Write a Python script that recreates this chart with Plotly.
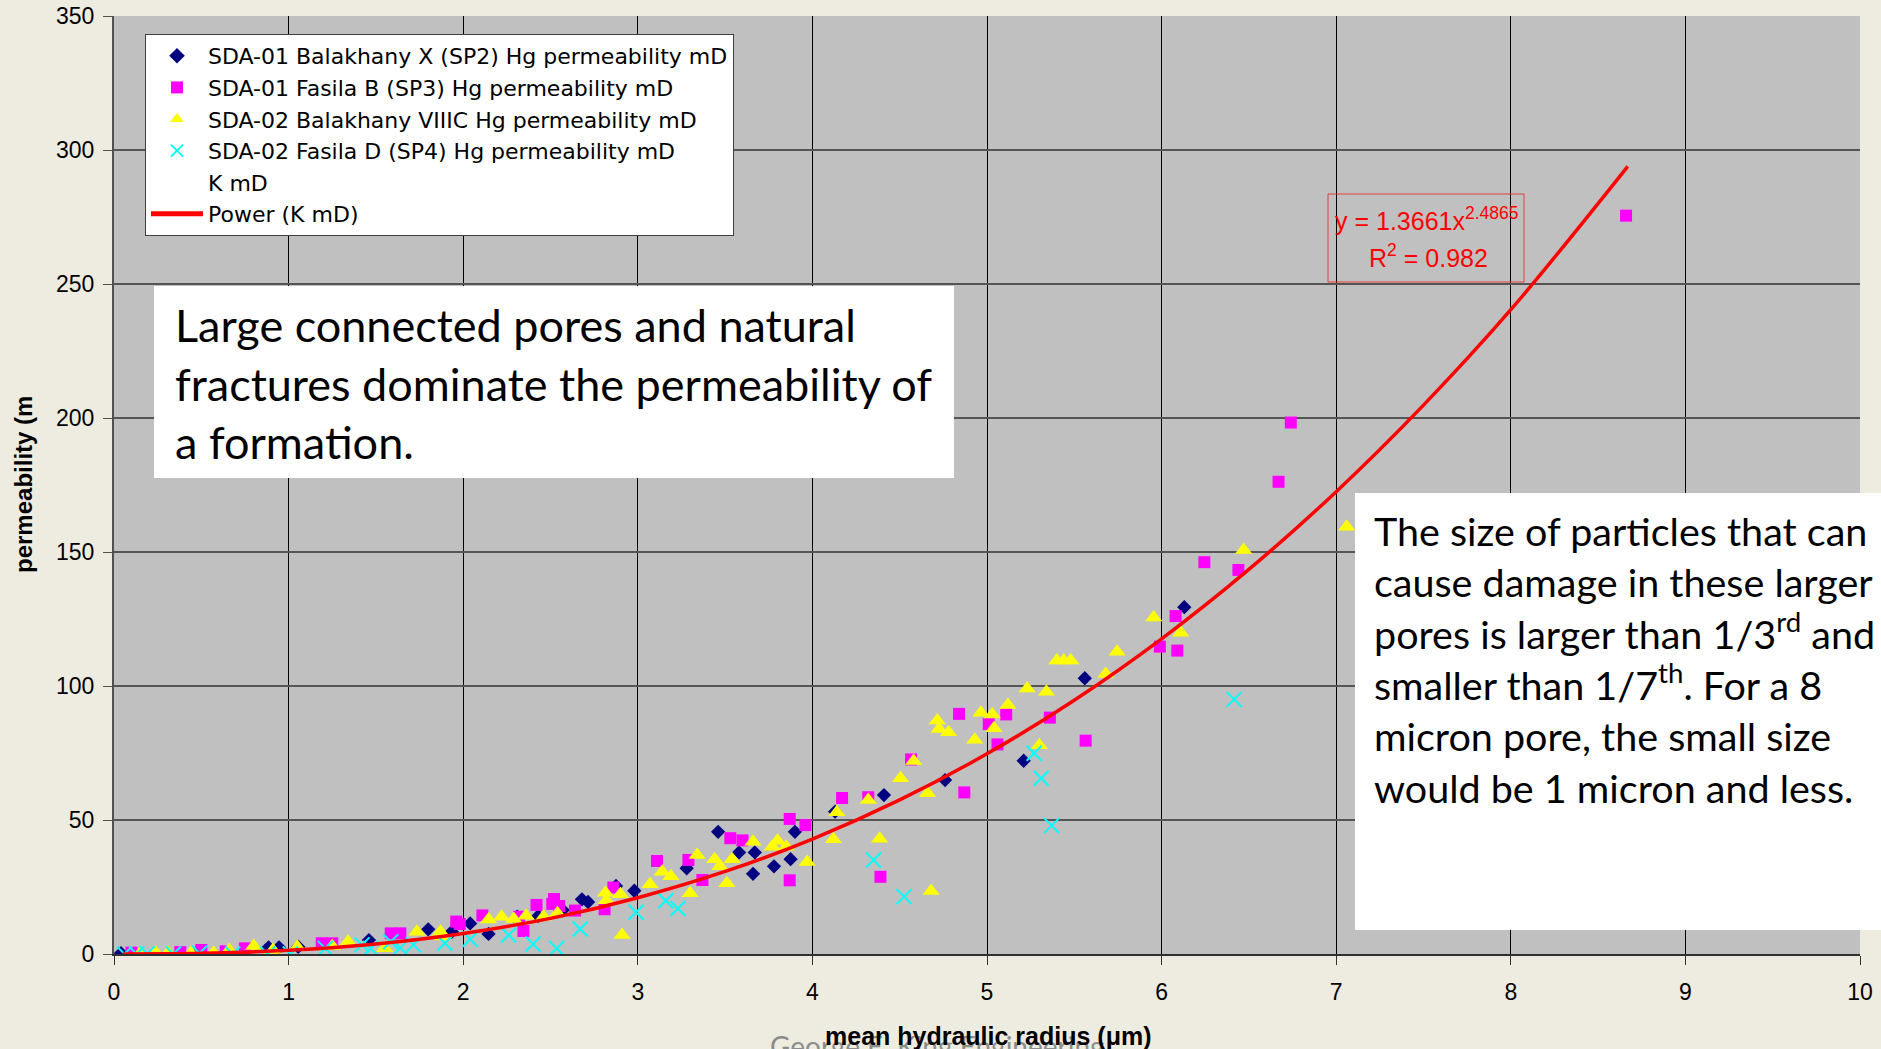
import plotly.graph_objects as go

# ---------------- data ----------------
sp2_x = [0.04, 0.48, 0.885, 0.945, 1.055, 1.46, 1.80, 1.935, 2.04, 2.145, 2.31, 2.43, 2.57, 2.68, 2.715,
         2.875, 2.98, 3.28, 3.46, 3.58, 3.66, 3.67, 3.78, 3.875, 3.90, 4.13, 4.41, 4.76, 5.21, 5.56, 6.13]
sp2_y = [0.3, 0.5, 2.5, 2.5, 2.7, 5.2, 9.2, 8.3, 11.4, 7.5, 13.9, 14.2, 16.4, 20.4, 19.4,
         25.4, 23.6, 32.0, 45.6, 37.9, 29.9, 37.9, 32.7, 35.4, 45.6, 53.1, 59.3, 64.9, 72.1, 102.9, 129.4]

sp3_x = [0.10, 0.38, 0.50, 0.64, 0.75, 1.19, 1.25, 1.585, 1.64, 1.96, 1.98, 2.11, 2.32, 2.345, 2.42,
         2.51, 2.52, 2.55, 2.64, 2.81, 2.86, 3.11, 3.29, 3.37, 3.53, 3.60, 3.87, 3.87, 3.96, 4.17,
         4.32, 4.39, 4.565, 4.84, 4.87, 5.01, 5.06, 5.11, 5.36, 5.565, 5.99, 6.08, 6.09, 6.245, 6.44,
         6.67, 6.74, 8.66]
sp3_y = [0.5, 0.7, 1.5, 1.0, 2.1, 4.0, 4.0, 7.7, 7.7, 12.1, 11.2, 14.4, 13.9, 8.6, 18.3,
         18.7, 20.5, 17.9, 16.2, 16.7, 24.8, 34.7, 35.1, 27.6, 43.2, 42.4, 50.4, 27.5, 48.1, 58.2,
         58.5, 28.8, 72.6, 89.6, 60.3, 85.8, 78.2, 89.4, 88.2, 79.6, 114.7, 126.1, 113.2, 146.2, 143.3,
         176.2, 198.3, 275.5]

viiic_x = [0.15, 0.24, 0.31, 0.44, 0.57, 0.66, 0.80, 0.91, 1.05, 1.25, 1.34, 1.55, 1.735, 1.87, 1.88,
           2.145, 2.22, 2.29, 2.36, 2.46, 2.54, 2.815, 2.82, 2.90, 2.91, 3.07, 3.14, 3.19, 3.30, 3.34,
           3.44, 3.47, 3.51, 3.54, 3.66, 3.77, 3.80, 3.85, 3.97, 4.12, 4.14, 4.32, 4.385, 4.505, 4.58,
           4.66, 4.68, 4.715, 4.725, 4.78, 4.93, 4.965, 5.03, 5.04, 5.12, 5.23, 5.30, 5.34, 5.40, 5.44,
           5.48, 5.68, 5.745, 5.955, 6.11, 6.47, 7.06]
viiic_y = [0.3, 0.5, 0.5, 0.4, 0.4, 1.5, 3.0, 1.5, 2.7, 3.0, 4.6, 2.1, 8.3, 8.3, 6.5,
           12.9, 13.9, 13.1, 14.3, 13.9, 15.2, 22.9, 20.1, 22.3, 7.1, 26.0, 30.7, 29.0, 22.7, 36.9,
           35.4, 32.7, 26.4, 35.4, 41.9, 40.0, 42.3, 40.0, 34.3, 42.8, 52.9, 57.5, 43.0, 65.6, 72.0,
           60.0, 23.5, 87.1, 84.0, 82.7, 79.9, 90.0, 89.4, 84.2, 92.9, 99.1, 77.9, 97.9, 109.5, 109.5,
           109.5, 104.5, 112.8, 125.6, 119.9, 150.7, 159.4]

sp4_x = [0.06, 0.13, 0.19, 0.34, 0.49, 0.68, 0.88, 1.01, 1.21, 1.42, 1.47, 1.585, 1.64, 1.715, 1.895,
         2.04, 2.26, 2.40, 2.535, 2.67, 2.99, 3.16, 3.23, 4.35, 4.525, 5.27, 5.31, 5.37, 6.415]
sp4_y = [0.0, 0.0, 0.1, 0.0, 0.3, 0.0, 0.0, 0.0, 2.1, 3.4, 2.1, 4.6, 2.3, 3.4, 4.0,
         5.5, 7.1, 3.7, 2.1, 9.3, 15.6, 19.9, 17.0, 35.1, 21.4, 74.9, 65.6, 47.9, 95.0]

# power trend line "Power (K mD)"
fit_x = [0.05, 0.5, 1.0, 1.5, 2.0, 2.5, 3.0, 3.5, 4.0, 4.5, 5.0, 5.5, 6.0, 6.5, 7.0, 7.5, 8.0, 8.67]
fit_y = [0.0, 0.24, 1.37, 3.74, 7.66, 13.3, 21.0, 30.8, 42.9, 57.5, 74.7, 94.7, 117.6, 143.5, 172.5, 204.8, 240.4, 293.9]

x_ticks = [0, 1, 2, 3, 4, 5, 6, 7, 8, 9, 10]
y_ticks = [0, 50, 100, 150, 200, 250, 300, 350]

names = ["SDA-01 Balakhany X (SP2) Hg permeability mD",
         "SDA-01 Fasila B (SP3) Hg permeability mD",
         "SDA-02 Balakhany VIIIC Hg permeability mD",
         "SDA-02 Fasila D (SP4) Hg permeability mD",
         "K mD",
         "Power (K mD)"]

# ---------------- layout helpers ----------------
W, H = 1881, 1049
L, R, T, B = 114, 21, 16, 95
PW, PH = W - L - R, H - T - B


def px(p):
    return (p - L) / PW


def py(p):
    return (H - B - p) / PH


ARIAL = "Liberation Sans, Arial, sans-serif"
LEG = "DejaVu Sans, Liberation Sans, sans-serif"
CAL = "Lato, Open Sans, sans-serif"

fig = go.Figure()
fig.add_trace(go.Scatter(x=sp2_x, y=sp2_y, mode="markers", name=names[0],
                         marker=dict(symbol="diamond", size=11, color="#000080")))
fig.add_trace(go.Scatter(x=sp3_x, y=sp3_y, mode="markers", name=names[1],
                         marker=dict(symbol="square", size=12, color="#FF00FF")))
fig.add_trace(go.Scatter(x=viiic_x, y=viiic_y, mode="markers", name=names[2],
                         marker=dict(symbol="triangle-up", size=15, color="#FFFF00")))
fig.add_trace(go.Scatter(x=sp4_x, y=sp4_y, mode="markers", name=names[3],
                         marker=dict(symbol="x-thin", size=15, color="#00FFFF",
                                     line=dict(color="#00FFFF", width=2))))
fig.add_trace(go.Scatter(x=[None], y=[None], mode="markers", name=names[4],
                         marker=dict(color="rgba(0,0,0,0)", size=8)))
fig.add_trace(go.Scatter(x=fit_x, y=fit_y, mode="lines", name=names[5],
                         line=dict(color="#FF0000", width=3.5, shape="spline")))

fig.update_layout(
    width=W, height=H,
    margin=dict(l=L, r=R, t=T, b=B, pad=0, autoexpand=False),
    paper_bgcolor="#EEECE1",
    plot_bgcolor="#C0C0C0",
    font=dict(family=ARIAL, color="black", size=23),
    showlegend=True,
    legend=dict(x=px(145), y=py(34), xanchor="left", yanchor="top",
                bgcolor="white", bordercolor="#404040", borderwidth=1,
                font=dict(family=LEG, size=22, color="black"),
                tracegroupgap=0, itemsizing="constant", itemwidth=52),
    xaxis=dict(range=[0, 10], tickvals=x_ticks, showgrid=True, gridcolor="black", gridwidth=1,
               zeroline=False, showline=True, linecolor="#303030", linewidth=2,
               ticks="outside", ticklen=9, tickcolor="#303030", tickwidth=1,
               tickfont=dict(family=ARIAL, size=23, color="black"), ticklabelstandoff=7),
    yaxis=dict(range=[0, 350], tickvals=y_ticks, showgrid=True, gridcolor="#555555", gridwidth=1.5,
               zeroline=False, showline=True, linecolor="#505050", linewidth=2,
               ticks="outside", ticklen=9, tickcolor="#505050", tickwidth=1,
               tickfont=dict(family=ARIAL, size=23, color="black"), ticklabelstandoff=4),
)

shapes = [
    dict(type="rect", xref="paper", yref="paper", x0=px(154), x1=px(954), y0=py(286), y1=py(478),
         fillcolor="white", line=dict(width=0), layer="above"),
    dict(type="rect", xref="paper", yref="paper", x0=px(1355), x1=px(1881), y0=py(493), y1=py(930),
         fillcolor="white", line=dict(width=0), layer="above"),
    dict(type="rect", xref="paper", yref="paper", x0=px(1328), x1=px(1524), y0=py(194), y1=py(282),
         fillcolor="rgba(0,0,0,0)", line=dict(color="rgba(230,40,40,0.85)", width=1), layer="above"),
]
fig.update_layout(shapes=shapes)

ann = [
    # equation
    dict(text="y = 1.3661x<sup>2.4865</sup>", x=px(1427), y=py(219), xanchor="center", yanchor="middle",
         font=dict(family=ARIAL, size=25, color="#FF0000")),
    dict(text="R<sup>2</sup> = 0.982", x=px(1428), y=py(256), xanchor="center", yanchor="middle",
         font=dict(family=ARIAL, size=25, color="#FF0000")),
    # callout box 1
    dict(text="Large connected pores and natural<br>fractures dominate the permeability of<br>a formation.",
         x=px(173), y=py(383), xanchor="left", yanchor="middle", align="left",
         font=dict(family=CAL, size=45, color="black")),
    # callout box 2
    dict(text="The size of particles that can<br>cause damage in these larger<br>pores is larger than 1/3<sup>rd</sup> and"
              "<br>smaller than 1/7<sup>th</sup>. For a 8<br>micron pore, the small size<br>would be 1 micron and less.",
         x=px(1372), y=py(659), xanchor="left", yanchor="middle", align="left",
         font=dict(family=CAL, size=39.5, color="black")),
    # watermark (mostly cut off at bottom)
    dict(text="George E. King Engineering", x=px(937), y=py(1027), xanchor="center", yanchor="top",
         font=dict(family=CAL, size=28, color="#8C8C8C")),
    # axis titles
    dict(text="<b>mean hydraulic radius (μm)</b>", x=px(988), y=py(1036), xanchor="center", yanchor="middle",
         font=dict(family=ARIAL, size=25, color="black")),
    dict(text="<b>permeability (m</b>", x=px(23), y=py(485), xanchor="center", yanchor="middle",
         textangle=-90, font=dict(family=ARIAL, size=24, color="black")),
]
for a in ann:
    a.update(xref="paper", yref="paper", showarrow=False)
fig.update_layout(annotations=ann)

fig.write_html("out.html")
